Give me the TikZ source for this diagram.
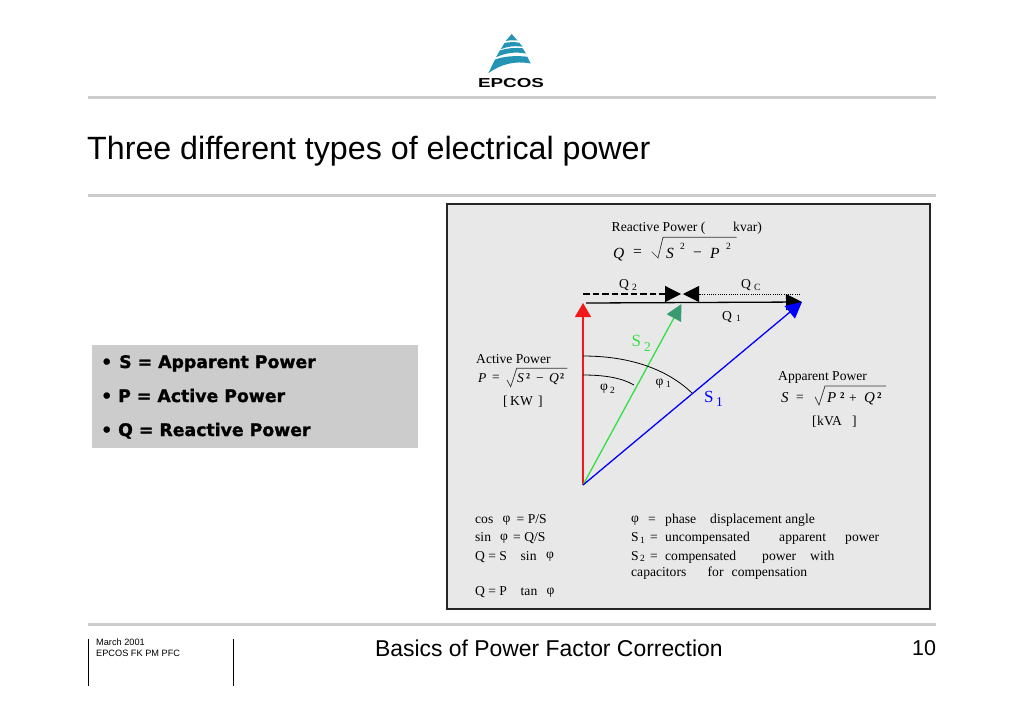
\documentclass[tikz,border=0pt]{standalone}
\usepackage{fontspec}
\setmainfont{Liberation Serif}
\newfontfamily\arialfont{Liberation Sans}
\newfontfamily\heavyfont[FakeBold=1.3]{DejaVu Sans Bold}
\newfontfamily\logofont[FakeStretch=1.45]{Liberation Sans Bold}
\usetikzlibrary{arrows.meta}
\tikzset{
    txt/.style={anchor=base west, inner sep=0pt, font=\fontsize{13.6}{15}\selectfont},
    formula/.style={txt, font=\fontsize{15.5}{17}\selectfont\itshape},
    small/.style={txt, font=\fontsize{9.5}{10}\selectfont},
    sans/.style={anchor=base west, inner sep=0pt, font=\arialfont\fontsize{#1}{#1}\selectfont},
    bullet/.style={anchor=base west, inner sep=0pt, font=\heavyfont\fontsize{17.3}{18}\selectfont},
    radical/.style={line width=0.7pt, draw=black!80},
    rulebar/.style={line width=3pt, draw=black!20},
    vector/.style={line width=#1pt, -{Triangle[length=16pt,width=16pt]}}
}
\definecolor{logoblue}{HTML}{2394B4}
\definecolor{panelgray}{HTML}{E8E8E8}
\definecolor{boxgray}{HTML}{CCCCCC}
\definecolor{sgreen}{HTML}{33E044}
\definecolor{sheadgreen}{HTML}{389A70}
\definecolor{pred}{HTML}{F01818}
\begin{document}
\begin{tikzpicture}[x=1pt, y=-1pt]
        \useasboundingbox (0,0) rectangle (1024,724);
        % logo
        \fill[logoblue] (511.7,34) -- (517.5,40.5) .. controls (513,40) and (509,40.3) .. (505.7,41) -- cycle;
        \fill[logoblue] (500.7,49.3) -- (504.5,43) .. controls (509,42) and (514,41.8) .. (519.3,42.7) -- (522.5,46.7) .. controls (514,45.5) and (507,46.5) .. cycle;
        \fill[logoblue] (496,57.3) -- (499.8,50.5) .. controls (507,48) and (515,47.5) .. (522.7,48.3) -- (526,53.5) .. controls (515,51.5) and (505,53) .. cycle;
        \fill[logoblue] (488.3,73.3) -- (495,59.5) .. controls (505,56) and (516,55.5) .. (527.3,56.7) -- (530.7,63.5) .. controls (515,60.5) and (501,64) .. cycle;
        \node[anchor=base, inner sep=0pt, font=\logofont\fontsize{13}{13}\selectfont] (Logo) at (511,87) {EPCOS};
        % rules
        \draw[rulebar] (88,97) -- (936,97);
        \draw[rulebar] (88,195) -- (936,195);
        \draw[rulebar] (88,624) -- (936,624);
        \node[sans=32.2] (Title) at (87,159) {Three different types of electrical power};
        % left box
        \fill[boxgray] (92,345) rectangle (418,448);
        \node[bullet] (BulletS) at (101,368) {•};
        \node[bullet] (ApparentKey) at (119,368) {S = Apparent Power};
        \node[bullet] (BulletP) at (101,402) {•};
        \node[bullet] (ActiveKey) at (118,402) {P = Active Power};
        \node[bullet] (BulletQ) at (101,436) {•};
        \node[bullet] (ReactiveKey) at (118,436) {Q = Reactive Power};
        % panel
        \draw[fill=panelgray, draw=black!85, line width=1.4pt] (447,204) rectangle (930,609);
        \coordinate (Origin) at (583,485);
        \coordinate (RedTip) at (583,303);
        \coordinate (GreenTip) at (681.5,304);
        \coordinate (BlueTip) at (802,302);
        \coordinate (Q1Start) at (586,303);
        \coordinate (DashStart) at (583,294);
        \coordinate (DashTip) at (681,294);
        \coordinate (DotStart) at (800,294);
        \coordinate (DotTip) at (683,294);
        \draw[line width=1.4pt, pred, -{Triangle[length=14pt,width=16pt]}] (Origin) to (RedTip);
        \draw[line width=1.3pt, sgreen, -{Triangle[length=16pt,width=16pt,color=sheadgreen]}] (Origin) to (GreenTip);
        \draw[vector=1.3, black] (Q1Start) to (BlueTip);
        \draw[vector=1.3, blue] (Origin) to (BlueTip);
        \draw[vector=1.2, black, dash pattern=on 6.5pt off 3pt] (DashStart) to (DashTip);
        \draw[vector=0.9, black, dash pattern=on 1pt off 1.2pt] (DotStart) to (DotTip);
        \draw[line width=0.8pt] (583,356) .. controls (635,356) and (670,372) .. (692,393);
        \draw[line width=0.8pt] (583,375) .. controls (605,375) and (622,378) .. (634,385);
        % reactive power
        \node[txt] (ReactiveName) at (611.5,231) {Reactive Power (};
        \node[txt] (ReactiveUnit) at (733,231) {kvar)};
        \node[formula] (ReactiveQ) at (613,258) {Q};
        \node[formula, font=\fontsize{15.5}{17}\selectfont] (ReactiveEq) at (633,256) {=};
        \draw[radical] (651.7,251.7) -- (658,258) -- (663,237.3) -- (736.7,237.3);
        \node[formula] (ReactiveS) at (666,258) {S};
        \node[small] (ReactiveTwoA) at (680,249) {2};
        \node[formula, font=\fontsize{15.5}{17}\selectfont] (ReactiveMinus) at (693,257) {−};
        \node[formula] (ReactiveP) at (710,258) {P};
        \node[small] (ReactiveTwoB) at (726,249) {2};
        \node[txt] (QTwo) at (619,288.5) {Q};
        \node[small] (QTwoSub) at (632,290) {2};
        \node[txt] (QC) at (741,288) {Q};
        \node[small] (QCSub) at (754,290) {C};
        \node[txt] (QOne) at (722,320) {Q};
        \node[small] (QOneSub) at (736,321) {1};
        % active power
        \node[txt] (ActiveName) at (476,363) {Active Power};
        \node[txt, font=\fontsize{13.6}{15}\selectfont\itshape] (ActiveP) at (478,382) {P};
        \node[txt] (ActiveEq) at (492,381) {=};
        \draw[radical] (507,380) -- (510.7,386.7) -- (516.7,368.3) -- (567.3,368.3);
        \node[txt, font=\fontsize{13.6}{15}\selectfont\itshape] (ActiveS) at (517,382) {S};
        \node[txt, font=\fontsize{13.6}{15}\selectfont\bfseries] (ActiveTwoA) at (526,382) {²};
        \node[txt] (ActiveMinus) at (536,382) {−};
        \node[txt, font=\fontsize{13.6}{15}\selectfont\itshape] (ActiveQ) at (549,382) {Q};
        \node[txt, font=\fontsize{13.6}{15}\selectfont\bfseries] (ActiveTwoB) at (560,382) {²};
        \node[txt] (ActiveOpen) at (503,405) {[};
        \node[txt] (ActiveUnit) at (510,405) {KW};
        \node[txt] (ActiveClose) at (538,405) {]};
        % apparent power
        \node[txt] (ApparentName) at (778,380) {Apparent Power};
        \node[txt, font=\fontsize{15}{16}\selectfont\itshape] (ApparentS) at (781,402) {S};
        \node[txt] (ApparentEq) at (796,401) {=};
        \draw[radical] (815,396.7) -- (819,405) -- (825,386) -- (886,386);
        \node[txt, font=\fontsize{15}{16}\selectfont\itshape] (ApparentP) at (827,402) {P};
        \node[txt, font=\fontsize{15}{16}\selectfont\bfseries] (ApparentTwoA) at (840,402) {²};
        \node[txt] (ApparentPlus) at (849,402) {+};
        \node[txt, font=\fontsize{15}{16}\selectfont\itshape] (ApparentQ) at (864,402) {Q};
        \node[txt, font=\fontsize{15}{16}\selectfont\bfseries] (ApparentTwoB) at (877,402) {²};
        \node[txt] (ApparentOpen) at (812,425) {[};
        \node[txt] (ApparentUnit) at (817,425) {kVA};
        \node[txt] (ApparentClose) at (852,425) {]};
        % vector labels
        \node[txt, font=\fontsize{17}{18}\selectfont, sgreen] (STwo) at (631.5,346) {S};
        \node[txt, font=\fontsize{13.5}{15}\selectfont, sgreen] (STwoSub) at (644,351) {2};
        \node[txt, font=\fontsize{17}{18}\selectfont, blue] (SOne) at (704,402) {S};
        \node[txt, font=\fontsize{13.5}{15}\selectfont, blue] (SOneSub) at (716,406) {1};
        \node[txt] (PhiTwo) at (600,390) {φ};
        \node[small] (PhiTwoSub) at (610,393) {2};
        \node[txt] (PhiOne) at (655.5,385) {φ};
        \node[small] (PhiOneSub) at (666,387) {1};
        % bottom left
        \node[txt] (CosName) at (475,523) {cos};
        \node[txt] (CosPhi) at (502.5,522) {φ};
        \node[txt] (CosRatio) at (516.5,523) {= P/S};
        \node[txt] (SinName) at (475,541.5) {sin};
        \node[txt] (SinPhi) at (500,540) {φ};
        \node[txt] (SinRatio) at (513,541.5) {= Q/S};
        \node[txt] (QByS) at (475,560) {Q = S};
        \node[txt] (QBySin) at (520.5,560) {sin};
        \node[txt] (QBySinPhi) at (546,558.5) {φ};
        \node[txt] (QByP) at (475,595) {Q = P};
        \node[txt] (QByTan) at (520.5,595) {tan};
        \node[txt] (QByTanPhi) at (546.5,594) {φ};
        % bottom right
        \node[txt] (DefPhi) at (631,522) {φ};
        \node[txt] (DefPhiEq) at (648,523) {=};
        \node[txt] (DefPhase) at (665,523) {phase};
        \node[txt] (DefDisplacement) at (710,523) {displacement angle};
        \node[txt] (DefSOne) at (631,541.5) {S};
        \node[small] (DefSOneSub) at (640,543) {1};
        \node[txt] (DefSOneEq) at (650,541.5) {=};
        \node[txt] (DefUncompensated) at (665,541.5) {uncompensated};
        \node[txt] (DefApparent) at (779,541.5) {apparent};
        \node[txt] (DefPower) at (845,541.5) {power};
        \node[txt] (DefSTwo) at (631,560) {S};
        \node[small] (DefSTwoSub) at (640,561.5) {2};
        \node[txt] (DefSTwoEq) at (650,560) {=};
        \node[txt] (DefCompensated) at (665,560) {compensated};
        \node[txt] (DefPowerTwo) at (762,560) {power};
        \node[txt] (DefWith) at (810,560) {with};
        \node[txt] (DefCapacitors) at (631,576.5) {capacitors};
        \node[txt] (DefFor) at (707.5,576.5) {for};
        \node[txt] (DefCompensation) at (731.5,576.5) {compensation};
        % footer
        \draw[line width=0.8pt] (88,639) -- (88,686);
        \draw[line width=0.8pt] (233,639) -- (233,686);
        \node[sans=9.2] (FooterDate) at (96,645) {March 2001};
        \node[sans=9.2] (FooterRef) at (96,656.5) {EPCOS FK PM PFC};
        \node[sans=22.9] (FooterTitle) at (375,656) {Basics of Power Factor Correction};
        \node[sans=21.5] (PageNumber) at (912,655) {10};
    \end{tikzpicture}
\end{document}
